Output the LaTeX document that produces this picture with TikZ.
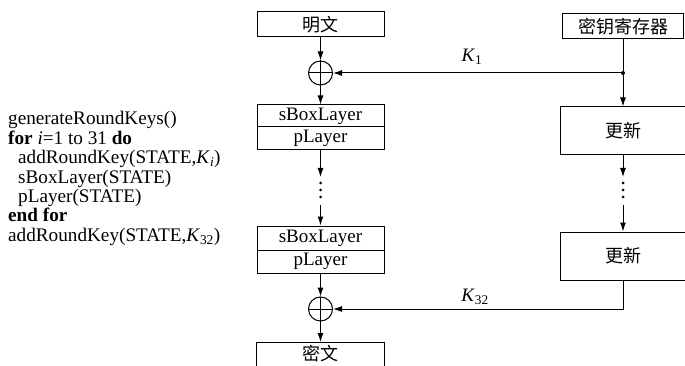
\documentclass[tikz,border=0pt]{standalone}
\usepackage{fontspec}
\setmainfont{Liberation Serif}
\newfontfamily\cjk{Noto Sans CJK SC}
\usetikzlibrary{arrows.meta}
\begin{document}
\begin{tikzpicture}[x=1pt,y=-1pt,
  lw/.style={line width=1pt},
  cbox/.style={draw, lw, inner sep=0pt, font=\cjk\fontsize{18}{18}\selectfont},
  lbox/.style={draw, lw, inner sep=0pt, minimum width=127pt, font=\fontsize{19}{19}\selectfont},
  xorc/.style={draw, lw, circle, minimum size=24pt, inner sep=0pt},
  arr/.style={lw, -{Latex[length=9pt,width=6pt]}},
  code/.style={anchor=base west, inner sep=0pt, text height=13pt, text depth=4pt, font=\fontsize{19.2}{19.2}\selectfont},
  klab/.style={inner sep=0pt, font=\fontsize{19}{19}\selectfont},
  vdot/.style={fill, circle, inner sep=0pt, minimum size=3pt},
]
\useasboundingbox (0,0) rectangle (685,366);
\clip (0,0) rectangle (685,366);

% left column
\node[cbox, minimum width=127pt, minimum height=25pt] (pt) at (320.5,24.5) {明文};
\node[xorc] (x1) at (320.5,73) {};
\draw[lw] (x1.north) -- (x1.south) (x1.west) -- (x1.east);
\node[lbox, minimum height=22pt] (sb1) at (320.5,116) {sBoxLayer};
\node[lbox, minimum height=23pt] (pl1) at (320.5,138.5) {pLayer};
\coordinate (la) at (320.5,177);
\node[vdot] (ld1) at (320.5,183) {};
\node[vdot] (ld2) at (320.5,190) {};
\node[vdot] (ld3) at (320.5,197) {};
\coordinate (lb) at (320.5,205);
\node[lbox, minimum height=24pt] (sb2) at (320.5,238) {sBoxLayer};
\node[lbox, minimum height=23pt] (pl2) at (320.5,261.5) {pLayer};
\node[xorc] (x2) at (320.5,309) {};
\draw[lw] (x2.north) -- (x2.south) (x2.west) -- (x2.east);
\node[cbox, draw=none, minimum width=127pt, minimum height=22pt, anchor=north] (ct) at (320.5,342) {密文};
\draw[lw] ([yshift=-12pt]ct.south west) -- (ct.north west) -- (ct.north east) -- ([yshift=-12pt]ct.south east);

% right column
\node[cbox, minimum width=121pt, minimum height=25pt] (kr) at (623,26.5) {密钥寄存器};
\coordinate (kd) at (623,73);
\node[cbox, minimum width=125pt, minimum height=48pt] (up1) at (623,131) {更新};
\coordinate (ra) at (623,177);
\node[vdot] (rd1) at (623,183) {};
\node[vdot] (rd2) at (623,190) {};
\node[vdot] (rd3) at (623,197) {};
\coordinate (rb) at (623,205);
\node[cbox, minimum width=125pt, minimum height=48pt] (up2) at (623,256) {更新};

% connectors
\draw[arr] (pt) -- (x1);
\draw[arr] (x1) -- (sb1);
\draw[arr] (pl1) -- (la);
\draw[arr] (lb) -- (sb2);
\draw[arr] (pl2) -- (x2);
\draw[arr] (x2) -- (ct);
\draw[lw] (kr) -- (kd);
\fill (kd) circle (2pt);
\draw[arr] (kd) -- (x1);
\draw[arr] (kd) -- (up1);
\draw[arr] (up1) -- (ra);
\draw[arr] (rb) -- (up2);
\draw[arr] (up2.south) |- (x2.east);

\node[klab] (k1) at (472,57) {\textit{K}\textsubscript{1}};
\node[klab] (k32) at (475,297) {\textit{K}\textsubscript{32}};

% pseudo code
\node[code] (c1) at (8,125) {generateRoundKeys()};
\node[code] (c2) at (8,144.4) {\textbf{for} \textit{i}=1 to 31 \textbf{do}};
\node[code] (c3) at (18,163.8) {addRoundKey(STATE,\textit{K}\textsubscript{\textit{i}})};
\node[code] (c4) at (18,183.2) {sBoxLayer(STATE)};
\node[code] (c5) at (18,202.6) {pLayer(STATE)};
\node[code] (c6) at (8,222) {\textbf{end for}};
\node[code] (c7) at (8,241.4) {addRoundKey(STATE,\textit{K}\textsubscript{32})};
\end{tikzpicture}
\end{document}
